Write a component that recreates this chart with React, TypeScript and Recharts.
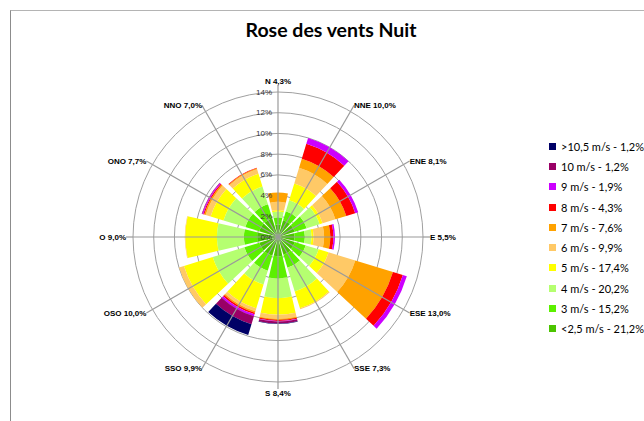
import { RadialBarChart, RadialBar, PolarAngleAxis, PolarRadiusAxis, PolarGrid } from 'recharts'

// directions, clockwise from north
const directions = ['N', 'NNE', 'ENE', 'E', 'ESE', 'SSE', 'S', 'SSO', 'OSO', 'O', 'ONO', 'NNO']
const directionShares = ['4,3', '10,0', '8,1', '5,5', '13,0', '7,3', '8,4', '9,9', '10,0', '9,0', '7,7', '7,0']

// % of the night per speed class and direction
const calm25 = [1.2, 1.7, 1.7, 1.6, 1.7, 1.8, 1.85, 1.9, 1.9, 2.0, 1.9, 1.9]
const speed3 = [0.7, 0.9, 1.2, 1.0, 1.1, 1.3, 2.15, 1.5, 1.5, 1.3, 1.4, 1.4]
const speed4 = [0.55, 1.1, 1.3, 0.65, 1.3, 2.4, 1.9, 1.4, 3.2, 2.6, 2.2, 1.8]
const speed5 = [0.15, 1.7, 0.3, 0.2, 1.0, 1.7, 1.6, 2.4, 2.9, 3.05, 1.3, 1.3]
const speed6 = [0.8, 1.6, 1.3, 1.0, 2.7, 0.1, 0.4, 0.3, 0.5, 0.05, 0.5, 0.45]
const speed7 = [0.9, 0.9, 1.1, 0.6, 3.8, 0, 0.1, 0.15, 0, 0, 0.15, 0.1]
const speed8 = [0, 1.5, 0.9, 0.3, 1.0, 0, 0.1, 0.15, 0, 0, 0.1, 0.05]
const speed9 = [0, 0.6, 0.3, 0.15, 0.4, 0, 0.05, 0.2, 0, 0, 0.1, 0]
const speed10 = [0, 0, 0, 0, 0, 0, 0.2, 0.8, 0, 0, 0.05, 0]
const speedOver = [0, 0, 0, 0, 0, 0, 0.05, 1.1, 0, 0, 0, 0]

const speedNames = ['<2,5 m/s', '3 m/s', '4 m/s', '5 m/s', '6 m/s', '7 m/s', '8 m/s', '9 m/s', '10 m/s', '>10,5 m/s']
const speedShares = ['21,2', '15,2', '20,2', '17,4', '9,9', '7,6', '4,3', '1,9', '1,2', '1,2']
const speedColors = ['#4bc400', '#5cf000', '#b5ff70', '#ffff00', '#ffc966', '#ffa200', '#ff0000', '#cc00ff', '#990066', '#000066']
const radiusTicks = [0, 2, 4, 6, 8, 10, 12, 14]

const speedValues = [calm25, speed3, speed4, speed5, speed6, speed7, speed8, speed9, speed10, speedOver]

const data = directions.map((dir, i) => {
  const row: Record<string, any> = { dir }
  speedValues.forEach((vals, k) => {
    row[`s${k}`] = vals[i]
  })
  return row
})

const CX = 278
const CY = 237
const R = 145
const FONT = '"Liberation Sans", Arial, sans-serif'

const DirTick = (props: any) => {
  const { x, y, payload } = props
  const i = directions.indexOf(payload.value)
  const dx = x - CX
  const dy = y - CY
  let anchor = 'middle'
  let ty = y
  if (Math.abs(dx) < 1) ty = y + (dy < 0 ? -4 : 4)
  else anchor = dx > 0 ? 'start' : 'end'
  return (
    <text x={x} y={ty} textAnchor={anchor} dominantBaseline="central" fontSize={8} fontWeight="bold" fontFamily={FONT} fill="#000">
      {`${payload.value} ${directionShares[i]}%`}
    </text>
  )
}

const RadiusTick = (props: any) => {
  const { y, payload } = props
  return (
    <text x={CX - 6} y={y} textAnchor="end" dominantBaseline="central" fontSize={8} fontFamily={FONT} fill="#333">
      {`${payload.value}%`}
    </text>
  )
}

const baseProps = {
  width: 644,
  height: 421,
  cx: CX,
  cy: CY,
  innerRadius: 0,
  outerRadius: R,
  data,
  layout: 'centric' as const,
  barCategoryGap: '7%',
  margin: { top: 0, right: 0, bottom: 0, left: 0 },
}

const App = () => {
  return (
    <div style={{ position: 'absolute', left: 0, top: 0, width: 644, height: 421, overflow: 'hidden', background: '#fff' }}>
      <div style={{ position: 'absolute', left: 10, top: 10, width: 700, height: 500, borderTop: '1px solid #b4b4b4', borderLeft: '1px solid #8c8c8c' }} />
      <div style={{ position: 'absolute', left: 0, top: 20, width: 662, textAlign: 'center', fontFamily: 'Lato, sans-serif', fontWeight: 'bold', fontSize: 19.5, lineHeight: '20px' }}>
        Rose des vents Nuit
      </div>

      {/* wedges sit in the band that starts at each category, so this chart is turned by half a band */}
      <div style={{ position: 'absolute', left: 0, top: 0 }}>
        <RadialBarChart {...baseProps} startAngle={75} endAngle={-285}>
          <PolarGrid gridType="circle" radialLines={false} stroke="#a0a0a0" />
          <PolarAngleAxis dataKey="dir" type="category" tick={false} axisLine={false} tickLine={false} />
          <PolarRadiusAxis type="number" domain={[0, 14]} ticks={radiusTicks} angle={90} tick={false} axisLine={false} tickLine={false} />
          {speedColors.map((color, k) => (
            <RadialBar key={k} dataKey={`s${k}`} stackId="w" fill={color} isAnimationActive={false} />
          ))}
        </RadialBarChart>
      </div>

      <div style={{ position: 'absolute', left: 0, top: 0, pointerEvents: 'none' }}>
        <RadialBarChart {...baseProps} startAngle={90} endAngle={-270}>
          <PolarGrid gridType="circle" polarRadius={[]} stroke="#9a9a9a" strokeWidth={1.2} />
          <PolarAngleAxis dataKey="dir" type="category" axisLine={false} tickSize={7} tickLine={{ stroke: '#9a9a9a', strokeWidth: 1.2 }} tick={<DirTick />} />
          <PolarRadiusAxis type="number" domain={[0, 14]} ticks={radiusTicks} angle={90} tick={<RadiusTick />} axisLine={false} tickLine={false} />
          <RadialBar dataKey="s0" fill="none" isAnimationActive={false} />
        </RadialBarChart>
      </div>

      <div style={{ position: 'absolute', left: 549, top: 136, fontFamily: 'Lato, sans-serif', fontSize: 11, color: '#000' }}>
        {speedNames.map((_, k) => speedNames.length - 1 - k).map((k) => (
          <div key={k} style={{ display: 'flex', alignItems: 'center', height: 20.3 }}>
            <span style={{ display: 'inline-block', width: 7, height: 7, background: speedColors[k], marginRight: 5 }} />
            <span>{`${speedNames[k]} - ${speedShares[k]}%`}</span>
          </div>
        ))}
      </div>
    </div>
  )
}

export default App
